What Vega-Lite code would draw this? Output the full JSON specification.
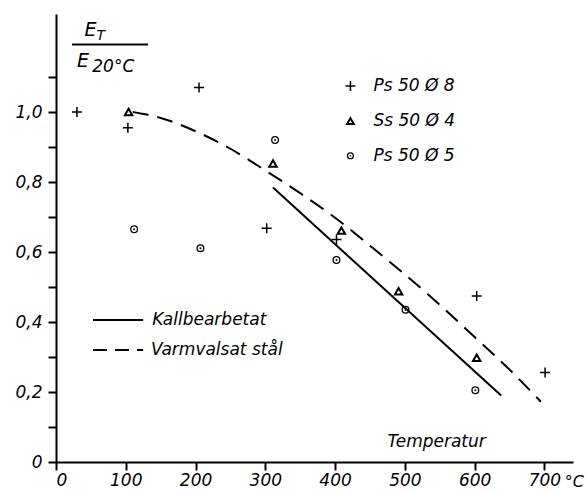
{
  "$schema": "https://vega.github.io/schema/vega-lite/v6.json",
  "width": 517,
  "height": 448,
  "autosize": {"type": "none"},
  "padding": {"left": 56, "top": 14, "right": 15, "bottom": 30},
  "background": "white",
  "config": {
    "view": {"stroke": null},
    "point": {"opacity": 1},
    "axis": {"grid": false, "domainColor": "black", "tickColor": "black", "labelColor": "black", "labelFont": "DejaVu Sans", "labelFontStyle": "italic", "labelFontSize": 17, "domainWidth": 2, "tickWidth": 2, "tickSize": 8, "title": null}
  },
  "datasets": {
    "points": [
      {"series": "Ps 50 Ø 8", "t": 30, "v": 1.0},
      {"series": "Ps 50 Ø 8", "t": 103, "v": 0.955},
      {"series": "Ps 50 Ø 8", "t": 205, "v": 1.07},
      {"series": "Ps 50 Ø 8", "t": 302, "v": 0.668},
      {"series": "Ps 50 Ø 8", "t": 402, "v": 0.636},
      {"series": "Ps 50 Ø 8", "t": 603, "v": 0.474},
      {"series": "Ps 50 Ø 8", "t": 701, "v": 0.256},
      {"series": "Ss 50 Ø 4", "t": 104, "v": 1.0},
      {"series": "Ss 50 Ø 4", "t": 311, "v": 0.853},
      {"series": "Ss 50 Ø 4", "t": 409, "v": 0.661},
      {"series": "Ss 50 Ø 4", "t": 491, "v": 0.488},
      {"series": "Ss 50 Ø 4", "t": 603, "v": 0.298},
      {"series": "Ps 50 Ø 5", "t": 112, "v": 0.665},
      {"series": "Ps 50 Ø 5", "t": 207, "v": 0.611},
      {"series": "Ps 50 Ø 5", "t": 314, "v": 0.92},
      {"series": "Ps 50 Ø 5", "t": 402, "v": 0.577},
      {"series": "Ps 50 Ø 5", "t": 501, "v": 0.435},
      {"series": "Ps 50 Ø 5", "t": 601, "v": 0.205}
    ],
    "legendSymbols": [
      {"series": "Ps 50 Ø 8", "t": 422, "v": 1.074, "tt": 455},
      {"series": "Ss 50 Ø 4", "t": 422, "v": 0.974, "tt": 455},
      {"series": "Ps 50 Ø 5", "t": 422, "v": 0.875, "tt": 455}
    ],
    "curves": [
      {"curve": "Kallbearbetat", "t": 311, "v": 0.784},
      {"curve": "Kallbearbetat", "t": 638, "v": 0.19},
      {"curve": "Varmvalsat stål", "t": 110, "v": 1.0},
      {"curve": "Varmvalsat stål", "t": 150, "v": 0.983},
      {"curve": "Varmvalsat stål", "t": 200, "v": 0.945},
      {"curve": "Varmvalsat stål", "t": 250, "v": 0.895},
      {"curve": "Varmvalsat stål", "t": 300, "v": 0.833},
      {"curve": "Varmvalsat stål", "t": 350, "v": 0.768},
      {"curve": "Varmvalsat stål", "t": 400, "v": 0.698},
      {"curve": "Varmvalsat stål", "t": 450, "v": 0.618},
      {"curve": "Varmvalsat stål", "t": 500, "v": 0.536},
      {"curve": "Varmvalsat stål", "t": 550, "v": 0.449},
      {"curve": "Varmvalsat stål", "t": 600, "v": 0.357},
      {"curve": "Varmvalsat stål", "t": 650, "v": 0.264},
      {"curve": "Varmvalsat stål", "t": 695, "v": 0.172}
    ],
    "legendLines": [
      {"curve": "Kallbearbetat", "t": 53, "t2": 125, "v": 0.406, "tt": 138},
      {"curve": "Varmvalsat stål", "t": 53, "t2": 125, "v": 0.32, "tt": 136}
    ]
  },
  "layer": [
    {
      "data": {"name": "curves"},
      "mark": {"type": "line", "color": "black", "strokeWidth": 2},
      "transform": [{"filter": "datum.curve == 'Kallbearbetat'"}],
      "encoding": {
        "x": {"field": "t", "type": "quantitative", "scale": {"domain": [0, 741], "nice": false, "zero": false},
          "axis": {"values": [0, 100, 200, 300, 400, 500, 600, 700], "labelPadding": 2}},
        "y": {"field": "v", "type": "quantitative", "scale": {"domain": [0, 1.28], "nice": false},
          "axis": {"values": [0, 0.1, 0.2, 0.3, 0.4, 0.5, 0.6, 0.7, 0.8, 0.9, 1.0, 1.1], "labelPadding": 6,
            "labelExpr": "datum.value == 0 ? '0' : (round(datum.value*10) % 2 == 1 ? '' : replace(format(datum.value, '.1f'), '.', ','))"}}
      }
    },
    {
      "data": {"name": "curves"},
      "mark": {"type": "line", "color": "black", "strokeWidth": 2, "strokeDash": [16, 9], "interpolate": "monotone"},
      "transform": [{"filter": "datum.curve == 'Varmvalsat stål'"}],
      "encoding": {"x": {"field": "t", "type": "quantitative"}, "y": {"field": "v", "type": "quantitative"}}
    },
    {
      "data": {"name": "points"},
      "transform": [{"filter": "datum.series == 'Ps 50 Ø 8'"}],
      "mark": {"type": "point", "shape": "M-1,0L1,0M0,-1L0,1", "filled": false, "stroke": "black", "strokeWidth": 1.5, "size": 100, "opacity": 1},
      "encoding": {"x": {"field": "t", "type": "quantitative"}, "y": {"field": "v", "type": "quantitative"}}
    },
    {
      "data": {"name": "points"},
      "transform": [{"filter": "datum.series == 'Ss 50 Ø 4'"}],
      "mark": {"type": "point", "shape": "triangle-up", "filled": false, "stroke": "black", "strokeWidth": 2, "size": 55, "opacity": 1},
      "encoding": {"x": {"field": "t", "type": "quantitative"}, "y": {"field": "v", "type": "quantitative"}}
    },
    {
      "data": {"name": "points"},
      "transform": [{"filter": "datum.series == 'Ps 50 Ø 5'"}],
      "mark": {"type": "point", "shape": "circle", "filled": false, "stroke": "black", "strokeWidth": 1.3, "size": 45, "opacity": 1},
      "encoding": {"x": {"field": "t", "type": "quantitative"}, "y": {"field": "v", "type": "quantitative"}}
    },
    {
      "data": {"name": "points"},
      "transform": [{"filter": "datum.series == 'Ps 50 Ø 5'"}],
      "mark": {"type": "point", "shape": "circle", "filled": true, "color": "black", "opacity": 1, "size": 4},
      "encoding": {"x": {"field": "t", "type": "quantitative"}, "y": {"field": "v", "type": "quantitative"}}
    },
    {
      "data": {"name": "legendSymbols"},
      "transform": [{"filter": "datum.series == 'Ps 50 Ø 8'"}],
      "mark": {"type": "point", "shape": "M-1,0L1,0M0,-1L0,1", "filled": false, "stroke": "black", "strokeWidth": 1.5, "size": 100, "opacity": 1},
      "encoding": {"x": {"field": "t", "type": "quantitative"}, "y": {"field": "v", "type": "quantitative"}}
    },
    {
      "data": {"name": "legendSymbols"},
      "transform": [{"filter": "datum.series == 'Ss 50 Ø 4'"}],
      "mark": {"type": "point", "shape": "triangle-up", "filled": false, "stroke": "black", "strokeWidth": 2, "size": 45, "opacity": 1},
      "encoding": {"x": {"field": "t", "type": "quantitative"}, "y": {"field": "v", "type": "quantitative"}}
    },
    {
      "data": {"name": "legendSymbols"},
      "transform": [{"filter": "datum.series == 'Ps 50 Ø 5'"}],
      "mark": {"type": "point", "shape": "circle", "filled": false, "stroke": "black", "strokeWidth": 1.3, "size": 35, "opacity": 1},
      "encoding": {"x": {"field": "t", "type": "quantitative"}, "y": {"field": "v", "type": "quantitative"}}
    },
    {
      "data": {"name": "legendSymbols"},
      "transform": [{"filter": "datum.series == 'Ps 50 Ø 5'"}],
      "mark": {"type": "point", "shape": "circle", "filled": true, "color": "black", "opacity": 1, "size": 3},
      "encoding": {"x": {"field": "t", "type": "quantitative"}, "y": {"field": "v", "type": "quantitative"}}
    },
    {
      "data": {"name": "legendSymbols"},
      "mark": {"type": "text", "align": "left", "baseline": "middle", "font": "DejaVu Sans", "fontStyle": "italic", "fontSize": 17, "color": "black"},
      "encoding": {"x": {"field": "tt", "type": "quantitative"}, "y": {"field": "v", "type": "quantitative"}, "text": {"field": "series"}}
    },
    {
      "data": {"name": "legendLines"},
      "transform": [{"filter": "datum.curve == 'Kallbearbetat'"}],
      "mark": {"type": "rule", "color": "black", "strokeWidth": 2},
      "encoding": {"x": {"field": "t", "type": "quantitative"}, "x2": {"field": "t2"}, "y": {"field": "v", "type": "quantitative"}}
    },
    {
      "data": {"name": "legendLines"},
      "transform": [{"filter": "datum.curve == 'Varmvalsat stål'"}],
      "mark": {"type": "rule", "color": "black", "strokeWidth": 2, "strokeDash": [14, 8]},
      "encoding": {"x": {"field": "t", "type": "quantitative"}, "x2": {"field": "t2"}, "y": {"field": "v", "type": "quantitative"}}
    },
    {
      "data": {"name": "legendLines"},
      "mark": {"type": "text", "align": "left", "baseline": "middle", "font": "DejaVu Sans", "fontStyle": "italic", "fontSize": 17, "color": "black"},
      "encoding": {"x": {"field": "tt", "type": "quantitative"}, "y": {"field": "v", "type": "quantitative"}, "text": {"field": "curve"}}
    },
    {
      "data": {"values": [
        {"label": "E", "t": 41, "v": 1.235, "size": 19},
        {"label": "T", "t": 58, "v": 1.218, "size": 14},
        {"label": "E", "t": 30, "v": 1.145, "size": 19},
        {"label": "20°C", "t": 52, "v": 1.128, "size": 17},
        {"label": "Temperatur", "t": 475, "v": 0.057, "size": 17},
        {"label": "°C", "t": 729, "v": -0.058, "size": 16}
      ]},
      "mark": {"type": "text", "align": "left", "baseline": "middle", "font": "DejaVu Sans", "fontStyle": "italic", "color": "black"},
      "encoding": {"x": {"field": "t", "type": "quantitative"}, "y": {"field": "v", "type": "quantitative"}, "text": {"field": "label"}, "size": {"field": "size", "type": "quantitative", "scale": null}}
    },
    {
      "data": {"values": [{"t": 23, "t2": 132, "v": 1.193}]},
      "mark": {"type": "rule", "color": "black", "strokeWidth": 2},
      "encoding": {"x": {"field": "t", "type": "quantitative"}, "x2": {"field": "t2"}, "y": {"field": "v", "type": "quantitative"}}
    }
  ]
}
